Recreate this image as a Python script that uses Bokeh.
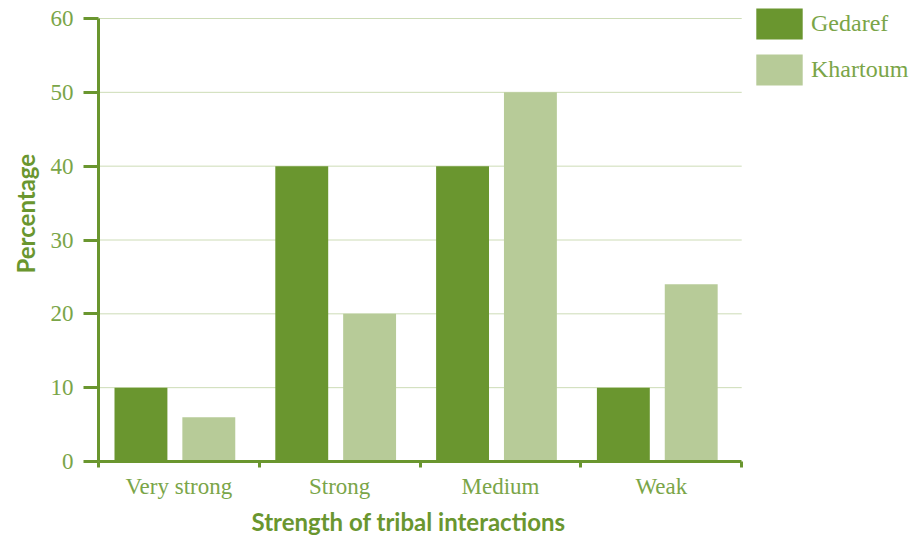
from bokeh.plotting import figure
from bokeh.models import (Range1d, LinearAxis, FixedTicker, Title,
                          CustomJSTickFormatter, ColumnDataSource, Legend, LegendItem)
from bokeh.transform import dodge
from bokeh.embed import file_html
from bokeh.resources import INLINE

categories = ["Very strong", "Strong", "Medium", "Weak"]
gedaref = [10, 40, 40, 10]
khartoum = [6, 20, 50, 24]
y_ticks = [0, 10, 20, 30, 40, 50, 60]

DARK = "#6a962f"
LIGHT = "#b7cb98"
TEXT = "#7aa548"
TITLE = "#6a962f"
GRID = "#cddcb6"
SERIF = "Liberation Serif"
BOLD = "Lato"

n = len(categories)
y_max = y_ticks[-1]
# category centres on a numeric axis (one unit per category)
centres = [i + 0.5 for i in range(n)]
src = ColumnDataSource(dict(pos=centres, cat=categories, gedaref=gedaref, khartoum=khartoum))

# the frame is wider/taller than the data area so the legend (right) is not clipped;
# the axes are bounded to the data area
p = figure(x_range=Range1d(0, n * 815 / 644), y_range=Range1d(0, y_max * 461 / 443),
           width=912, height=538,
           x_axis_location=None, y_axis_location=None,
           output_backend="svg", toolbar_location=None,
           min_border_left=97, min_border_right=0, min_border_top=0, min_border_bottom=77)
p.outline_line_color = None
p.background_fill_color = "white"
p.xgrid.visible = False
p.ygrid.visible = False

# horizontal grid lines over the data area only
p.segment(x0=0, x1=n, y0=y_ticks[1:], y1=y_ticks[1:], line_color=GRID, line_width=1)

r1 = p.vbar(x=dodge("pos", -0.236), top="gedaref", width=0.329,
            source=src, fill_color=DARK, line_color=None)
r2 = p.vbar(x=dodge("pos", 0.186), top="khartoum", width=0.329,
            source=src, fill_color=LIGHT, line_color=None)

xaxis = LinearAxis(ticker=FixedTicker(ticks=centres, minor_ticks=list(range(n + 1))),
                   formatter=CustomJSTickFormatter(args=dict(labels=categories),
                                                   code="return labels[Math.floor(tick)] || ''"),
                   bounds=(0, n))
xaxis.axis_line_color = DARK
xaxis.axis_line_width = 3
xaxis.major_tick_out = 0
xaxis.major_tick_in = 0
xaxis.major_tick_line_color = None
xaxis.minor_tick_out = 6
xaxis.minor_tick_in = 0
xaxis.minor_tick_line_color = DARK
xaxis.minor_tick_line_width = 3
xaxis.major_label_standoff = 6
xaxis.major_label_text_font = SERIF
xaxis.major_label_text_font_size = "23px"
xaxis.major_label_text_color = TEXT
p.add_layout(xaxis, "below")

# x-axis title, placed under the data area (not the whole frame)
xtitle = Title(text="Strength of tribal interactions", align="left", offset=153,
               text_font=BOLD, text_font_style="bold", text_font_size="24px",
               text_color=TITLE, standoff=6)
p.add_layout(xtitle, "below")

yaxis = LinearAxis(ticker=FixedTicker(ticks=y_ticks), bounds=(0, y_max))
yaxis.axis_line_color = DARK
yaxis.axis_line_width = 3
yaxis.major_tick_out = 15
yaxis.major_tick_in = 0
yaxis.major_tick_line_color = DARK
yaxis.major_tick_line_width = 3
yaxis.minor_tick_line_color = None
yaxis.major_label_standoff = 10
yaxis.major_label_text_font = SERIF
yaxis.major_label_text_font_size = "23px"
yaxis.major_label_text_color = TEXT
p.add_layout(yaxis, "left")

# y-axis title, placed beside the data area
ytitle = Title(text="Percentage", align="left", offset=188,
               text_font=BOLD, text_font_style="bold", text_font_size="24px",
               text_color=TITLE, standoff=16)
p.add_layout(ytitle, "left")

legend = Legend(items=[LegendItem(label="Gedaref", renderers=[r1]),
                       LegendItem(label="Khartoum", renderers=[r2])],
                location=(652, 372), orientation="vertical",
                glyph_width=58, glyph_height=39, spacing=7, padding=0, margin=0,
                label_standoff=3, label_text_font=SERIF, label_text_font_size="24px",
                label_text_color=TEXT, border_line_color=None, background_fill_alpha=0)
p.add_layout(legend, "center")

open("out.html", "w").write(file_html(p, INLINE))
